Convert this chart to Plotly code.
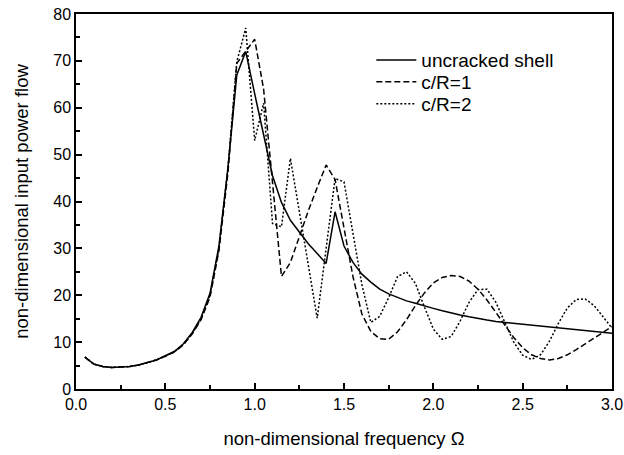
import plotly.graph_objects as go

omega = [0.05, 0.10, 0.15, 0.20, 0.25, 0.30, 0.35, 0.40, 0.45, 0.50,
         0.55, 0.60, 0.65, 0.70, 0.75, 0.80, 0.85, 0.90, 0.95, 1.00,
         1.05, 1.10, 1.15, 1.20, 1.25, 1.30, 1.35, 1.40, 1.45, 1.50,
         1.55, 1.60, 1.65, 1.70, 1.75, 1.80, 1.85, 1.90, 1.95, 2.00,
         2.05, 2.10, 2.15, 2.20, 2.25, 2.30, 2.35, 2.40, 2.45, 2.50,
         2.55, 2.60, 2.65, 2.70, 2.75, 2.80, 2.85, 2.90, 2.95, 3.00]

uncracked = [6.8, 5.3, 4.8, 4.6, 4.7, 4.8, 5.1, 5.6, 6.2, 7.1,
             8.0, 9.6, 12.0, 15.3, 20.4, 30.5, 47.0, 67.0, 72.0, 63.0,
             54.0, 45.5, 39.8, 36.0, 33.5, 31.0, 28.9, 26.8, 37.8, 30.5,
             27.0, 24.5, 22.8, 21.3, 20.3, 19.5, 18.8, 18.3, 17.7, 17.2,
             16.7, 16.2, 15.8, 15.4, 15.0, 14.7, 14.4, 14.2, 14.0, 13.8,
             13.6, 13.4, 13.2, 13.0, 12.8, 12.6, 12.4, 12.2, 12.0, 11.9]

crack_1 = [6.8, 5.3, 4.8, 4.6, 4.7, 4.8, 5.1, 5.6, 6.2, 7.0,
           7.9, 9.4, 11.7, 14.8, 19.6, 29.5, 46.0, 69.5, 72.0, 74.6,
           64.0, 44.0, 24.0, 27.0, 32.5, 38.0, 43.0, 47.8, 44.7, 34.0,
           24.0, 16.0, 12.3, 10.7, 10.6, 12.2, 14.8, 17.8, 20.5, 22.6,
           23.8, 24.2, 24.0, 23.0, 21.3, 19.0, 16.4, 13.6, 11.0, 8.8,
           7.3, 6.5, 6.2, 6.5, 7.3, 8.4, 9.6, 10.9, 12.1, 13.3]

crack_2 = [6.8, 5.3, 4.8, 4.6, 4.7, 4.8, 5.1, 5.6, 6.2, 7.0,
           7.9, 9.5, 11.8, 15.0, 20.0, 30.0, 47.0, 69.8, 77.0, 53.0,
           61.0, 35.3, 34.6, 49.2, 38.3, 26.5, 15.1, 30.0, 44.9, 44.2,
           33.1, 22.3, 14.2, 15.5, 19.5, 24.0, 25.0, 22.5, 17.5, 12.8,
           10.6, 11.2, 14.5, 18.5, 21.2, 21.3, 18.5, 14.3, 10.0, 7.2,
           6.3, 7.3, 10.2, 14.0, 17.3, 19.1, 19.2, 17.8, 15.5, 13.0]

series_names = ["uncracked shell", "c/R=1", "c/R=2"]

fig = go.Figure()
fig.add_trace(go.Scatter(x=omega, y=uncracked, mode="lines", name=series_names[0],
                         legend="legend",
                         line=dict(color="black", width=1.5, dash="solid")))
fig.add_trace(go.Scatter(x=omega, y=crack_1, mode="lines", name=series_names[1],
                         legend="legend2",
                         line=dict(color="black", width=1.5, dash="6px,3px")))
fig.add_trace(go.Scatter(x=omega, y=crack_2, mode="lines", name=series_names[2],
                         legend="legend3",
                         line=dict(color="black", width=1.5, dash="2px,2px")))

font_family = "Liberation Sans, Arial, sans-serif"
leg_common = dict(x=0.551, xanchor="left", yanchor="middle",
                  bgcolor="rgba(0,0,0,0)", font=dict(size=19), itemwidth=40)

fig.update_layout(
    width=624, height=455,
    margin=dict(l=76, r=12, t=14, b=66, autoexpand=False),
    paper_bgcolor="white", plot_bgcolor="white",
    font=dict(family=font_family, color="black", size=16),
    showlegend=True,
    legend=dict(y=0.877, **leg_common),
    legend2=dict(y=0.819, **leg_common),
    legend3=dict(y=0.760, **leg_common),
)

fig.update_xaxes(
    range=[0, 3.0], tickvals=[0, 0.5, 1.0, 1.5, 2.0, 2.5, 3.0], tickformat=".1f",
    ticks="inside", ticklen=6, tickwidth=1.5, tickcolor="black",
    minor=dict(tickvals=[0.25, 0.75, 1.25, 1.75, 2.25, 2.75], ticks="inside",
               ticklen=4, tickwidth=1.5, tickcolor="black"),
    showline=True, linecolor="black", linewidth=1.5, mirror=True,
    showgrid=False, zeroline=False, automargin=False,
    title=dict(text="non-dimensional frequency Ω", font=dict(size=18.5), standoff=20),
    tickfont=dict(size=16),
)
fig.update_yaxes(
    range=[0, 80], tickvals=[0, 10, 20, 30, 40, 50, 60, 70, 80],
    ticks="inside", ticklen=6, tickwidth=1.5, tickcolor="black",
    minor=dict(tickvals=[5, 15, 25, 35, 45, 55, 65, 75], ticks="inside",
               ticklen=4, tickwidth=1.5, tickcolor="black"),
    showline=True, linecolor="black", linewidth=1.5, mirror=True,
    showgrid=False, zeroline=False, automargin=False,
    title=dict(text="non-dimensional input power flow", font=dict(size=18.5), standoff=20),
    tickfont=dict(size=16),
)

fig.write_html("out.html")
